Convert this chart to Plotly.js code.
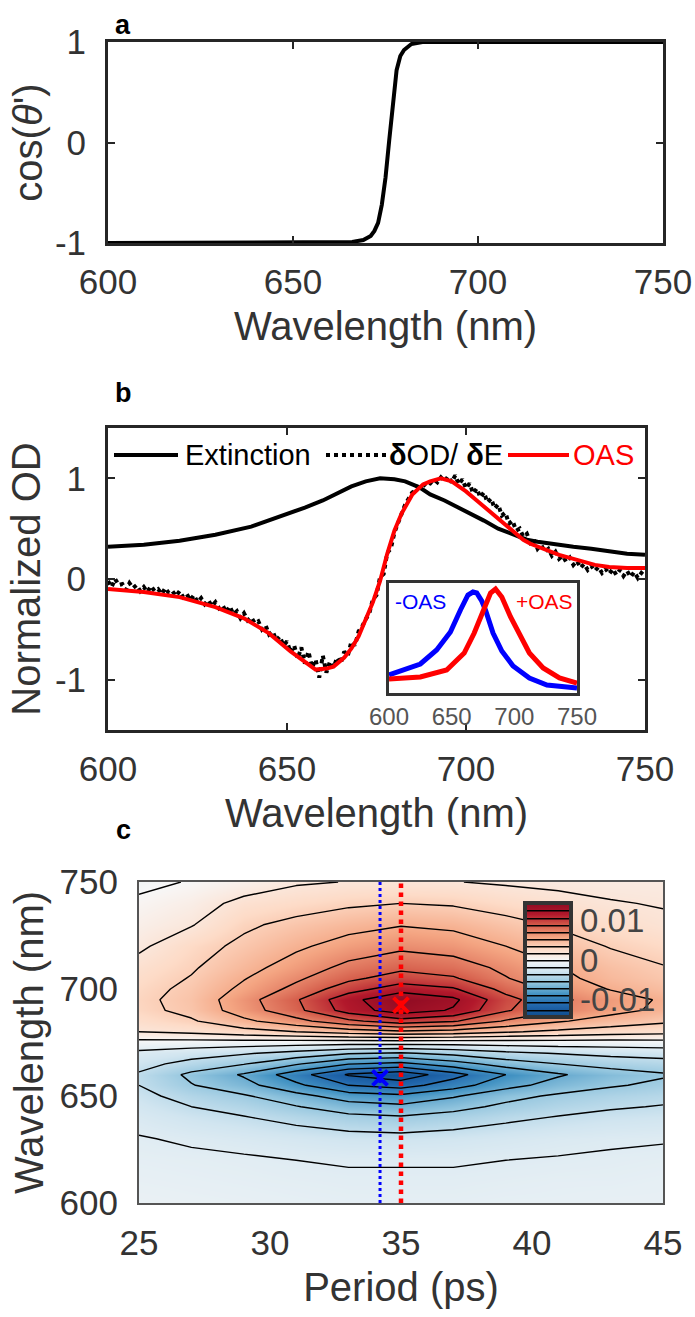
<!DOCTYPE html>
<html>
<head>
<meta charset="utf-8">
<script src="https://cdn.plot.ly/plotly-3.0.1.min.js"></script>
<style>html,body{margin:0;padding:0;background:#fff;}#chart{width:695px;height:1317px;}</style>
</head>
<body>
<div id="chart"></div>
<script>
// ---------- DATA ----------
// Panel a: cos(theta') vs wavelength
const aWl  = [600,620,640,660,666,669,671,672,673,674,675,676,677,678,679,680,682,685,690,700,720,750];
const aCos = [-1,-1,-1,-1,-0.99,-0.97,-0.93,-0.88,-0.8,-0.62,-0.35,0.02,0.42,0.72,0.86,0.92,0.98,1,1,1,1,1];

// Panel b: extinction
const extWl  = [600,610,620,630,640,650,655,660,665,668,672,676,680,683,687,690,694,698,702,705,709,713,717,720,725,730,735,740,745,750];
const extVal = [0.32,0.34,0.38,0.44,0.52,0.64,0.71,0.78,0.87,0.92,0.97,1.00,0.99,0.97,0.91,0.84,0.78,0.71,0.64,0.58,0.50,0.44,0.39,0.37,0.34,0.32,0.30,0.27,0.25,0.24];

// Panel b: dOD/dE (measured, noisy), 1 nm steps
const dodWl = [
 600,601,602,603,604,605,606,607,608,609,
 610,611,612,613,614,615,616,617,618,619,
 620,621,622,623,624,625,626,627,628,629,
 630,631,632,633,634,635,636,637,638,639,
 640,641,642,643,644,645,646,647,648,649,
 650,651,652,653,654,655,656,657,658,659,
 660,661,662,663,664,665,666,667,668,669,
 670,671,672,673,674,675,676,677,678,679,
 680,681,682,683,684,685,686,687,688,689,
 690,691,692,693,694,695,696,697,698,699,
 700,701,702,703,704,705,706,707,708,709,
 710,711,712,713,714,715,716,717,718,719,
 720,721,722,723,724,725,726,727,728,729,
 730,731,732,733,734,735,736,737,738,739,
 740,741,742,743,744,745,746,747,748,749,750];
const dodVal = [
 -0.02,-0.08,0.00,-0.06,-0.05,-0.11,-0.04,-0.09,-0.06,-0.12,
 -0.08,-0.13,-0.07,-0.12,-0.10,-0.15,-0.09,-0.14,-0.12,-0.17,
 -0.12,-0.18,-0.15,-0.21,-0.16,-0.23,-0.19,-0.25,-0.21,-0.27,
 -0.23,-0.29,-0.26,-0.33,-0.27,-0.35,-0.32,-0.39,-0.34,-0.41,
 -0.38,-0.44,-0.42,-0.50,-0.46,-0.55,-0.52,-0.61,-0.57,-0.66,
 -0.62,-0.73,-0.66,-0.79,-0.68,-0.84,-0.72,-0.88,-0.80,-0.98,
 -0.76,-0.93,-0.82,-0.88,-0.78,-0.84,-0.72,-0.76,-0.62,-0.66,
 -0.52,-0.47,-0.40,-0.34,-0.20,-0.16,0.02,0.05,0.26,0.30,
 0.46,0.55,0.66,0.74,0.80,0.86,0.88,0.93,0.92,0.96,
 0.95,0.99,0.96,1.01,0.97,1.02,0.96,1.03,0.94,0.99,
 0.90,0.95,0.85,0.90,0.81,0.86,0.76,0.80,0.70,0.74,
 0.63,0.66,0.55,0.58,0.48,0.50,0.42,0.45,0.36,0.39,
 0.30,0.34,0.27,0.30,0.23,0.27,0.20,0.23,0.17,0.21,
 0.14,0.18,0.11,0.15,0.09,0.13,0.08,0.12,0.06,0.10,
 0.05,0.10,0.04,0.09,0.03,0.08,0.02,0.07,0.01,0.06,0.03];

// Panel b: OAS
const oasWl  = [600,610,620,630,638,645,651,655,658,661,663,666,668,670,672,674,676,678,680,682,685,688,690,693,696,698,700,703,706,708,710,713,716,718,720,723,726,728,730,733,736,740,745,750];
const oasVal = [-0.10,-0.13,-0.18,-0.28,-0.39,-0.54,-0.72,-0.83,-0.90,-0.89,-0.87,-0.78,-0.69,-0.57,-0.41,-0.23,-0.02,0.25,0.48,0.65,0.84,0.94,0.97,1.00,0.97,0.92,0.87,0.78,0.69,0.63,0.57,0.47,0.39,0.35,0.32,0.28,0.24,0.22,0.20,0.16,0.14,0.12,0.11,0.11];

// Inset: -OAS and +OAS
const negWl  = [600,612,625,638,649,657,663,667,670,674,677,683,690,699,712,726,739,750];
const negVal = [0.18,0.23,0.29,0.43,0.61,0.83,0.98,1.01,1.0,0.92,0.83,0.6,0.42,0.27,0.15,0.08,0.06,0.05];
const posWl  = [600,625,646,660,668,674,681,685,690,697,705,712,723,736,750];
const posVal = [0.14,0.16,0.23,0.40,0.60,0.80,1.0,1.04,0.96,0.76,0.56,0.40,0.25,0.15,0.10];

// Panel c: map (values in units of 1e-3)
const cPeriod = [25,27,29,31,33,35,37,39,41,43,45];
const cWl = [600,610,620,630,640,645,650,655,660,665,670,675,680,685,690,695,700,705,710,720,730,740,750];
const cZ = [
 [-1.0,-1.1,-1.2,-1.3,-1.4,-1.4,-1.4,-1.3,-1.3,-1.2,-1.2],
 [-1.2,-1.3,-1.4,-1.5,-1.6,-1.6,-1.6,-1.5,-1.4,-1.4,-1.3],
 [-1.4,-1.5,-1.6,-1.8,-1.9,-1.9,-1.9,-1.8,-1.7,-1.6,-1.5],
 [-1.7,-2.0,-2.3,-2.6,-2.9,-3.0,-2.8,-2.5,-2.2,-2.0,-1.9],
 [-2.3,-3.0,-3.5,-4.2,-4.9,-5.2,-4.7,-4.0,-3.5,-3.1,-2.9],
 [-2.7,-3.6,-4.3,-5.3,-6.4,-6.8,-6.0,-5.0,-4.3,-3.8,-3.5],
 [-3.1,-4.3,-5.2,-6.6,-8.1,-8.6,-7.4,-6.0,-5.1,-4.5,-4.1],
 [-3.6,-5.3,-6.6,-8.6,-10.8,-11.6,-9.8,-7.8,-6.5,-5.6,-5.0],
 [-3.8,-5.8,-7.4,-10.0,-12.8,-13.8,-11.5,-9.0,-7.4,-6.3,-5.6],
 [-3.0,-4.2,-5.3,-7.0,-8.9,-9.5,-8.0,-6.4,-5.4,-4.7,-4.3],
 [-2.2,-2.8,-3.4,-4.2,-5.2,-5.6,-4.9,-4.0,-3.5,-3.1,-2.9],
 [-0.6,-0.7,-0.8,-0.9,-1.0,-1.0,-1.0,-0.9,-0.8,-0.8,-0.7],
 [1.8,2.2,2.9,3.6,4.4,5.0,4.6,3.8,3.2,2.7,2.4],
 [2.6,3.4,5.0,6.6,8.6,10.0,9.2,7.0,5.6,4.6,3.9],
 [3.1,4.1,6.3,8.5,11.6,13.6,12.4,9.2,7.3,6.0,5.0],
 [3.2,4.2,6.5,8.8,12.0,14.2,13.0,9.6,7.6,6.2,5.2],
 [3.0,4.0,5.8,7.7,10.0,11.8,11.0,8.4,6.6,5.3,4.5],
 [2.7,3.7,5.3,6.9,8.6,9.8,9.2,7.3,5.9,4.7,4.0],
 [2.4,3.4,4.8,6.2,7.7,8.6,8.1,6.8,5.5,4.4,3.7],
 [1.5,2.9,4.0,5.1,6.1,6.8,6.4,5.4,4.4,3.5,2.9],
 [0.9,1.7,3.3,4.1,4.8,5.3,5.0,4.2,3.4,2.6,2.1],
 [0.3,1.0,2.3,2.8,3.3,3.6,3.4,2.8,2.3,1.9,1.7],
 [-0.4,0.1,0.8,1.6,1.85,1.9,1.85,1.6,1.45,1.35,1.3]
];
const negPeriod = 34.2, posPeriod = 35.0;
const negMarkWl = 658.5, posMarkWl = 692.5;
const cLineWl = [600, 750];

const wlTicks = [600,650,700,750];
const periodTicks = [25,30,35,40,45];

// ---------- LAYOUT HELPERS ----------
const W = 695, H = 1317;
const fx = p => p / W;
const fy = p => 1 - p / H;
const FONT = 'Liberation Sans, Arial, Helvetica, sans-serif';
const TXT = '#333333';
const AX = '#262626';
const TICK = 35, TITLE = 40;

function baseAxis(extra) {
  return Object.assign({
    showgrid: false, zeroline: false, automargin: false,
    showline: true, mirror: 'ticks', linecolor: AX, linewidth: 3,
    ticks: 'inside', ticklen: 7, tickwidth: 2, tickcolor: AX,
    tickfont: {family: FONT, size: TICK, color: TXT}
  }, extra);
}

const traces = [
  {x: aWl, y: aCos, type: 'scatter', mode: 'lines', line: {color: '#000', width: 4}, xaxis: 'x', yaxis: 'y', showlegend: false},
  {x: extWl, y: extVal, type: 'scatter', mode: 'lines', line: {color: '#000', width: 4}, xaxis: 'x2', yaxis: 'y2', showlegend: false},
  {x: dodWl, y: dodVal, type: 'scatter', mode: 'lines', line: {color: '#000', width: 4, dash: 'dot'}, xaxis: 'x2', yaxis: 'y2', showlegend: false},
  {x: oasWl, y: oasVal, type: 'scatter', mode: 'lines', line: {color: '#ff0000', width: 4}, xaxis: 'x2', yaxis: 'y2', showlegend: false},
  {x: negWl, y: negVal, type: 'scatter', mode: 'lines', line: {color: '#0000ff', width: 5}, xaxis: 'x4', yaxis: 'y4', showlegend: false},
  {x: posWl, y: posVal, type: 'scatter', mode: 'lines', line: {color: '#ff0000', width: 5}, xaxis: 'x4', yaxis: 'y4', showlegend: false},
  {
    type: 'contour', x: cPeriod, y: cWl, z: cZ, xaxis: 'x3', yaxis: 'y3',
    zmin: -14.5, zmax: 14.5, zauto: false, autocontour: false,
    contours: {start: -12.6, end: 12.6, size: 1.8, coloring: 'heatmap', showlines: true},
    line: {color: '#000', width: 1.4, smoothing: 0},
    colorscale: [[0,'#0d4a8a'],[0.1,'#2166ac'],[0.2,'#4393c3'],[0.3,'#92c5de'],[0.4,'#d1e5f0'],[0.5,'#f7f7f7'],
                 [0.6,'#fddbc7'],[0.7,'#f4a582'],[0.8,'#d6604d'],[0.9,'#b2182b'],[1,'#8c0a22']],
    colorbar: {
      x: fx(525), xanchor: 'left', xpad: 0, ypad: 0,
      y: fy(960), yanchor: 'middle', len: 114, lenmode: 'pixels',
      thickness: 46, thicknessmode: 'pixels',
      outlinewidth: 4, outlinecolor: '#333',
      tickvals: [-10, 0, 10], ticktext: ['-0.01', '0', '0.01'], ticks: '',
      tickfont: {family: FONT, size: 33, color: '#444'}
    },
    showlegend: false, hoverinfo: 'skip'
  },
  {x: [negPeriod, negPeriod], y: cLineWl, type: 'scatter', mode: 'lines', line: {color: '#0000ff', width: 3, dash: 'dot'}, xaxis: 'x3', yaxis: 'y3', showlegend: false},
  {x: [posPeriod, posPeriod], y: cLineWl, type: 'scatter', mode: 'lines', line: {color: '#ff0000', width: 4.5, dash: 'dot'}, xaxis: 'x3', yaxis: 'y3', showlegend: false},
  {x: [negPeriod], y: [negMarkWl], type: 'scatter', mode: 'markers', marker: {symbol: 'x-thin-open', size: 15, color: '#0000ff', line: {color: '#0000ff', width: 4}}, xaxis: 'x3', yaxis: 'y3', showlegend: false},
  {x: [posPeriod], y: [posMarkWl], type: 'scatter', mode: 'markers', marker: {symbol: 'x-thin-open', size: 15, color: '#ff0000', line: {color: '#ff0000', width: 4}}, xaxis: 'x3', yaxis: 'y3', showlegend: false}
];

const layout = {
  width: W, height: H,
  margin: {l: 0, r: 0, t: 0, b: 0},
  paper_bgcolor: '#fff', plot_bgcolor: '#fff',
  font: {family: FONT, color: TXT},
  showlegend: false,
  xaxis: baseAxis({domain: [fx(108), fx(663)], range: [600, 750], tickvals: wlTicks, anchor: 'y',
    ticklabelstandoff: 6,
    title: {text: 'Wavelength (nm)', font: {family: FONT, size: TITLE, color: TXT}, standoff: 12}}),
  yaxis: baseAxis({domain: [fy(243), fy(42)], range: [-1, 1], tickvals: [-1, 0, 1], ticktext: ['-1', '0', '1'], anchor: 'x',
    ticklabelstandoff: 12,
    title: {text: 'cos(<i>θ</i>\')', font: {family: FONT, size: TITLE, color: TXT}, standoff: 0}}),
  xaxis2: baseAxis({domain: [fx(108), fx(645)], range: [600, 750], tickvals: wlTicks, anchor: 'y2',
    ticklabelstandoff: 6,
    title: {text: 'Wavelength (nm)', font: {family: FONT, size: TITLE, color: TXT}, standoff: 12}}),
  yaxis2: baseAxis({domain: [fy(730), fy(428)], range: [-1.5, 1.5], tickvals: [-1, 0, 1], ticktext: ['-1', '0', '1'], anchor: 'x2',
    ticklabelstandoff: 12,
    title: {text: 'Normalized OD', font: {family: FONT, size: TITLE, color: TXT}, standoff: 2}}),
  xaxis3: baseAxis({domain: [fx(139), fx(663)], range: [25, 45], tickvals: periodTicks, anchor: 'y3',
    linecolor: '#555', linewidth: 2, ticks: '', ticklabelstandoff: 8,
    title: {text: 'Period (ps)', font: {family: FONT, size: TITLE, color: TXT}, standoff: 12}}),
  yaxis3: baseAxis({domain: [fy(1203), fy(882)], range: [600, 750], tickvals: wlTicks, anchor: 'x3',
    linecolor: '#555', linewidth: 2, ticks: '', ticklabelstandoff: 12,
    title: {text: 'Wavelength (nm)', font: {family: FONT, size: TITLE, color: TXT}, standoff: 4}}),
  xaxis4: {domain: [fx(389), fx(577)], range: [600, 750], tickvals: wlTicks, anchor: 'y4',
    showgrid: false, zeroline: false, automargin: false, showline: true, mirror: true,
    linecolor: '#333', linewidth: 3, ticks: '', ticklabelstandoff: 0,
    tickfont: {family: FONT, size: 24, color: '#555'}},
  yaxis4: {domain: [fy(693), fy(583)], range: [0, 1.1], anchor: 'x4',
    showgrid: false, zeroline: false, automargin: false, showline: true, mirror: true,
    linecolor: '#333', linewidth: 3, ticks: '', showticklabels: false},
  shapes: [
    {type: 'line', xref: 'paper', yref: 'paper', x0: fx(114), x1: fx(178), y0: fy(455), y1: fy(455), line: {color: '#000', width: 4}},
    {type: 'line', xref: 'paper', yref: 'paper', x0: fx(326), x1: fx(387), y0: fy(455), y1: fy(455), line: {color: '#000', width: 4, dash: 'dot'}},
    {type: 'line', xref: 'paper', yref: 'paper', x0: fx(508), x1: fx(569), y0: fy(455), y1: fy(455), line: {color: '#ff0000', width: 4}}
  ],
  annotations: [
    {text: '<b>a</b>', xref: 'paper', yref: 'paper', x: fx(123), y: fy(25), xanchor: 'center', yanchor: 'middle', showarrow: false, font: {family: FONT, size: 27, color: '#000'}},
    {text: '<b>b</b>', xref: 'paper', yref: 'paper', x: fx(123), y: fy(393), xanchor: 'center', yanchor: 'middle', showarrow: false, font: {family: FONT, size: 27, color: '#000'}},
    {text: '<b>c</b>', xref: 'paper', yref: 'paper', x: fx(123), y: fy(830), xanchor: 'center', yanchor: 'middle', showarrow: false, font: {family: FONT, size: 27, color: '#000'}},
    {text: 'Extinction', xref: 'paper', yref: 'paper', x: fx(183), y: fy(455), xanchor: 'left', yanchor: 'middle', showarrow: false, font: {family: FONT, size: 29, color: '#000'}},
    {text: '<b>δ</b>OD/ <b>δ</b>E', xref: 'paper', yref: 'paper', x: fx(387), y: fy(455), xanchor: 'left', yanchor: 'middle', showarrow: false, font: {family: FONT, size: 29, color: '#000'}},
    {text: 'OAS', xref: 'paper', yref: 'paper', x: fx(571), y: fy(455), xanchor: 'left', yanchor: 'middle', showarrow: false, font: {family: FONT, size: 29, color: '#ff0000'}},
    {text: '-OAS', xref: 'paper', yref: 'paper', x: fx(393), y: fy(601), xanchor: 'left', yanchor: 'middle', showarrow: false, font: {family: FONT, size: 21, color: '#0000ff'}},
    {text: '+OAS', xref: 'paper', yref: 'paper', x: fx(514), y: fy(601), xanchor: 'left', yanchor: 'middle', showarrow: false, font: {family: FONT, size: 21, color: '#ff0000'}}
  ]
};

Plotly.newPlot('chart', traces, layout, {staticPlot: true, displayModeBar: false});
</script>
</body>
</html>
